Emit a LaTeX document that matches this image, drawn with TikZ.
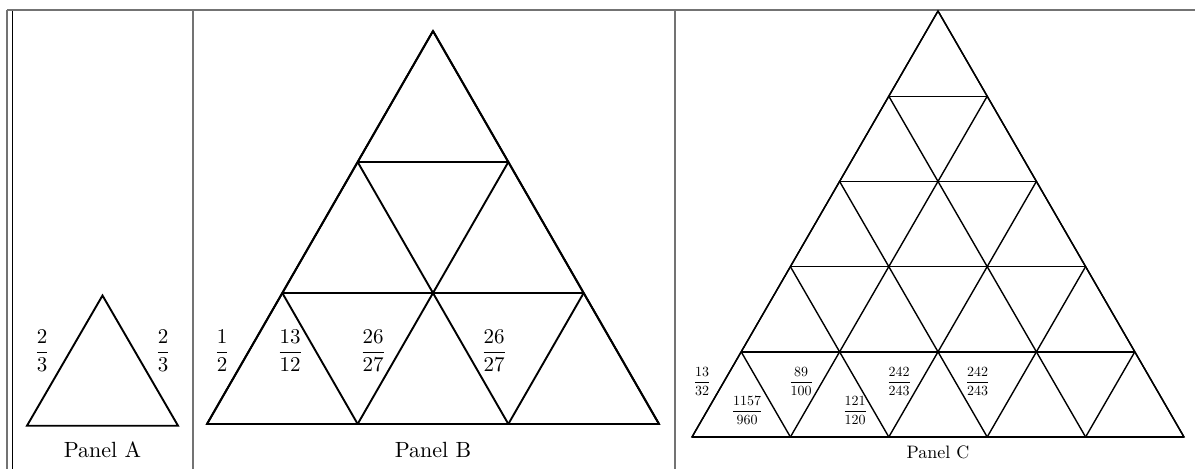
\documentclass[tikz,border=0pt]{standalone}
\usepackage{amsmath}
\usetikzlibrary{calc}
\begin{document}
\begin{tikzpicture}[x=1pt,y=-1pt,
  rule/.style={draw=black!55, line width=1.3pt},
  thick tri/.style={line width=1.9pt, line join=miter},
  thin tri/.style={line width=1.4pt, line join=miter},
  big frac/.style={scale=2.1, inner sep=0pt, anchor=base},
  small frac/.style={scale=1.4, inner sep=0pt, anchor=base},
  panel label/.style={scale=2.2, inner sep=0pt},
  panel label c/.style={scale=1.8, inner sep=0pt}]
\useasboundingbox (0,0) rectangle (1195,469);
% table rules
\coordinate (TL) at (7,10);
\coordinate (TR) at (1195,10);
\draw[rule] (TL) -- (TR);
\draw[rule] (7,10) -- (7,469);
\draw[black, line width=1pt] (12,10.6) -- (12,469);
\draw[rule] (193,10) -- (193,469);
\draw[rule] (675,10) -- (675,469);

% Panel A
\coordinate (AL) at (27,425.7);
\coordinate (AR) at (178,425.7);
\coordinate (AT) at (102.5,295.5);
\draw[thick tri] (AL) -- (AR) -- (AT) -- cycle;
\node[big frac] (a1) at (42,357.3) {$\dfrac{2}{3}$};
\node[big frac] (a2) at (163,357.3) {$\dfrac{2}{3}$};
\node[panel label] (pa) at (102.5,450) {Panel A};

% Panel B
\coordinate (BL) at (207,424);
\coordinate (BR) at (659,424);
\coordinate (BT) at (433,31);
\foreach \k in {0,...,2}{
  \pgfmathsetmacro\f{\k/3}
  \pgfmathsetmacro\g{(\k+1)/3}
  \draw[thick tri] ($(BL)!\f!(BT)$) -- ($(BR)!\f!(BT)$);
  \draw[thick tri] ($(BL)!\f!(BR)$) -- ($(BT)!\f!(BR)$);
  \draw[thick tri] ($(BL)!\g!(BR)$) -- ($(BL)!\g!(BT)$);
}
\draw[thick tri] (BL) -- (BR) -- (BT) -- cycle;
\node[big frac] (b1) at (222,357.3) {$\dfrac{1}{2}$};
\node[big frac] (b2) at (290,357.3) {$\dfrac{13}{12}$};
\node[big frac] (b3) at (373,357.3) {$\dfrac{26}{27}$};
\node[big frac] (b4) at (494,357.3) {$\dfrac{26}{27}$};
\node[panel label] (pb) at (433,450) {Panel B};

% Panel C
\coordinate (CL) at (692,437);
\coordinate (CR) at (1184,437);
\coordinate (CT) at (938,11);
\foreach \k in {0,...,4}{
  \pgfmathsetmacro\f{\k/5}
  \pgfmathsetmacro\g{(\k+1)/5}
  \draw[thin tri] ($(CL)!\f!(CT)$) -- ($(CR)!\f!(CT)$);
  \draw[thin tri] ($(CL)!\f!(CR)$) -- ($(CT)!\f!(CR)$);
  \draw[thin tri] ($(CL)!\g!(CR)$) -- ($(CL)!\g!(CT)$);
}
\draw[thin tri] (CL) -- (CR) -- (CT) -- cycle;
\node[small frac] (c1) at (702,385.5) {$\dfrac{13}{32}$};
\node[small frac] (c2) at (747,414.5) {$\dfrac{1157}{960}$};
\node[small frac] (c3) at (801,385.5) {$\dfrac{89}{100}$};
\node[small frac] (c4) at (855,414.5) {$\dfrac{121}{120}$};
\node[small frac] (c5) at (899,385.5) {$\dfrac{242}{243}$};
\node[small frac] (c6) at (977.5,385.5) {$\dfrac{242}{243}$};
\node[panel label c] (pc) at (938,452) {Panel C};
\end{tikzpicture}
\end{document}
